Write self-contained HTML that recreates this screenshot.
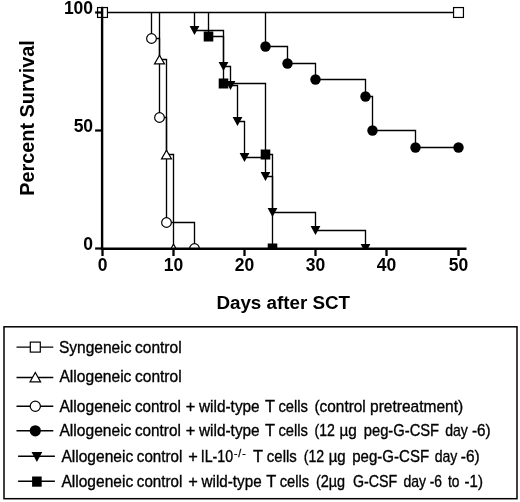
<!DOCTYPE html>
<html><head><meta charset="utf-8"><title>Survival</title>
<style>
html,body{margin:0;padding:0;background:#fff;}
svg{display:block}
text{font-family:"Liberation Sans",sans-serif;fill:#000}
.tk{font-weight:bold;font-size:17.5px}
.lb{font-weight:bold;font-size:18.8px}
.lb2{font-weight:bold;font-size:19.85px}
.lg{font-size:16.4px;stroke:#000;stroke-width:0.35px}
.sup{font-size:10.5px;stroke:#000;stroke-width:0.3px}
</style></head><body>
<svg width="520" height="502" viewBox="0 0 520 502">
<defs><clipPath id="cp"><rect x="0" y="0" width="520" height="248.8"/></clipPath></defs>
<rect width="520" height="502" fill="#fff"/>
<g clip-path="url(#cp)">
<path d="M102.5,12.5 L458.5,12.5" fill="none" stroke="#000" stroke-width="1.35"/>
<path d="M159.5,12.5 L159.5,59.5 L166.5,59.5 L166.5,154.5 L173.5,154.5 L173.5,248.5" fill="none" stroke="#000" stroke-width="1.35"/>
<path d="M151.5,12.5 L151.5,38.5 L159.5,38.5 L159.5,117.5 L166.5,117.5 L166.5,222.5 L194.5,222.5 L194.5,248.5" fill="none" stroke="#000" stroke-width="1.35"/>
<path d="M265.5,12.5 L265.5,46.5 L287.5,46.5 L287.5,63.5 L315.5,63.5 L315.5,79.5 L365.5,79.5 L365.5,96.5 L372.5,96.5 L372.5,130.5 L415.5,130.5 L415.5,147.5 L458.5,147.5" fill="none" stroke="#000" stroke-width="1.35"/>
<path d="M194.5,12.5 L194.5,30.5 L223.5,30.5 L223.5,66.5 L230.5,66.5 L230.5,85.5 L237.5,85.5 L237.5,121.5 L244.5,121.5 L244.5,157.5 L265.5,157.5 L265.5,176.5 L272.5,176.5 L272.5,212.5 L315.5,212.5 L315.5,230.5 L365.5,230.5 L365.5,248.5" fill="none" stroke="#000" stroke-width="1.35"/>
<path d="M208.5,12.5 L208.5,36.5 L223.5,36.5 L223.5,83.5 L265.5,83.5 L265.5,154.5 L272.5,154.5 L272.5,248.5" fill="none" stroke="#000" stroke-width="1.35"/>
<rect x="97.55" y="7.55" width="9.9" height="9.9" fill="#fff" stroke="#000" stroke-width="1.2"/>
<rect x="453.55" y="7.55" width="9.9" height="9.9" fill="#fff" stroke="#000" stroke-width="1.2"/>
<path d="M154.5,63.9 L164.5,63.9 L159.5,55.1 Z" fill="#fff" stroke="#000" stroke-width="1.2"/>
<path d="M161.5,158.9 L171.5,158.9 L166.5,150.1 Z" fill="#fff" stroke="#000" stroke-width="1.2"/>
<path d="M168.5,252.9 L178.5,252.9 L173.5,244.1 Z" fill="#fff" stroke="#000" stroke-width="1.2"/>
<circle cx="151.5" cy="38.5" r="4.85" fill="#fff" stroke="#000" stroke-width="1.2"/>
<circle cx="159.5" cy="117.5" r="4.85" fill="#fff" stroke="#000" stroke-width="1.2"/>
<circle cx="166.5" cy="222.5" r="4.85" fill="#fff" stroke="#000" stroke-width="1.2"/>
<circle cx="194.5" cy="248.5" r="4.85" fill="#fff" stroke="#000" stroke-width="1.2"/>
<circle cx="265.5" cy="46.5" r="5.2" fill="#000"/>
<circle cx="287.5" cy="63.5" r="5.2" fill="#000"/>
<circle cx="315.5" cy="79.5" r="5.2" fill="#000"/>
<circle cx="365.5" cy="96.5" r="5.2" fill="#000"/>
<circle cx="372.5" cy="130.5" r="5.2" fill="#000"/>
<circle cx="415.5" cy="147.5" r="5.2" fill="#000"/>
<circle cx="458.5" cy="147.5" r="5.2" fill="#000"/>
<path d="M189.6,25.9 L199.4,25.9 L194.5,35.1 Z" fill="#000"/>
<path d="M218.6,61.9 L228.4,61.9 L223.5,71.1 Z" fill="#000"/>
<path d="M225.6,80.9 L235.4,80.9 L230.5,90.1 Z" fill="#000"/>
<path d="M232.6,116.9 L242.4,116.9 L237.5,126.1 Z" fill="#000"/>
<path d="M239.6,152.9 L249.4,152.9 L244.5,162.1 Z" fill="#000"/>
<path d="M260.6,171.9 L270.4,171.9 L265.5,181.1 Z" fill="#000"/>
<path d="M267.6,207.9 L277.4,207.9 L272.5,217.1 Z" fill="#000"/>
<path d="M310.6,225.9 L320.4,225.9 L315.5,235.1 Z" fill="#000"/>
<path d="M360.6,243.9 L370.4,243.9 L365.5,253.1 Z" fill="#000"/>
<rect x="203.7" y="31.5" width="9.6" height="10" fill="#000"/>
<rect x="218.7" y="78.5" width="9.6" height="10" fill="#000"/>
<rect x="260.7" y="149.5" width="9.6" height="10" fill="#000"/>
<rect x="267.7" y="243.5" width="9.6" height="10" fill="#000"/>
</g>
<line x1="102.1" y1="6.8" x2="102.1" y2="250.0" stroke="#000" stroke-width="2.4"/>
<line x1="100.89999999999999" y1="248.8" x2="466.5" y2="248.8" stroke="#000" stroke-width="2.4"/>
<line x1="102.5" y1="248.8" x2="102.5" y2="256.0" stroke="#000" stroke-width="2.3"/>
<text x="102.5" y="270.8" text-anchor="middle" class="tk">0</text>
<line x1="173.5" y1="248.8" x2="173.5" y2="256.0" stroke="#000" stroke-width="2.3"/>
<text x="173.5" y="270.8" text-anchor="middle" class="tk">10</text>
<line x1="244.5" y1="248.8" x2="244.5" y2="256.0" stroke="#000" stroke-width="2.3"/>
<text x="244.5" y="270.8" text-anchor="middle" class="tk">20</text>
<line x1="315.5" y1="248.8" x2="315.5" y2="256.0" stroke="#000" stroke-width="2.3"/>
<text x="315.5" y="270.8" text-anchor="middle" class="tk">30</text>
<line x1="386.5" y1="248.8" x2="386.5" y2="256.0" stroke="#000" stroke-width="2.3"/>
<text x="386.5" y="270.8" text-anchor="middle" class="tk">40</text>
<line x1="458.5" y1="248.8" x2="458.5" y2="256.0" stroke="#000" stroke-width="2.3"/>
<text x="458.5" y="270.8" text-anchor="middle" class="tk">50</text>
<line x1="95.1" y1="248.5" x2="102.1" y2="248.5" stroke="#000" stroke-width="2.2"/>
<text x="93.1" y="250.3" text-anchor="end" class="tk">0</text>
<line x1="95.1" y1="130.5" x2="102.1" y2="130.5" stroke="#000" stroke-width="2.2"/>
<text x="93.1" y="132.3" text-anchor="end" class="tk">50</text>
<line x1="95.1" y1="12.5" x2="102.1" y2="12.5" stroke="#000" stroke-width="2.2"/>
<text x="93.1" y="14.3" text-anchor="end" class="tk">100</text>
<text x="283.2" y="309.4" text-anchor="middle" class="lb">Days after SCT</text>
<text transform="translate(34.2,118) rotate(-90)" text-anchor="middle" class="lb2">Percent Survival</text>
<rect x="4" y="326.8" width="513" height="171.9" fill="#fff" stroke="#000" stroke-width="1.5"/>
<line x1="16.5" y1="347.1" x2="53.3" y2="347.1" stroke="#000" stroke-width="1.4"/>
<rect x="30.299999999999997" y="342.1" width="10" height="10" fill="#fff" stroke="#000" stroke-width="1.2"/>
<text y="353" class="lg"><tspan x="58.95" textLength="72.46" lengthAdjust="spacingAndGlyphs">Syngeneic</tspan> <tspan x="134.99" textLength="46.6" lengthAdjust="spacingAndGlyphs">control</tspan></text>
<line x1="16.5" y1="377.5" x2="53.3" y2="377.5" stroke="#000" stroke-width="1.4"/>
<path d="M29.999999999999996,381.9 L40.599999999999994,381.9 L35.3,372.5 Z" fill="#fff" stroke="#000" stroke-width="1.2"/>
<text y="382.3" class="lg"><tspan x="59.47" textLength="71.94" lengthAdjust="spacingAndGlyphs">Allogeneic</tspan> <tspan x="134.99" textLength="46.6" lengthAdjust="spacingAndGlyphs">control</tspan></text>
<line x1="16.5" y1="406.2" x2="53.3" y2="406.2" stroke="#000" stroke-width="1.4"/>
<circle cx="35.3" cy="406.2" r="5.1" fill="#fff" stroke="#000" stroke-width="1.2"/>
<text y="411.7" class="lg"><tspan x="59.47" textLength="71.94" lengthAdjust="spacingAndGlyphs">Allogeneic</tspan> <tspan x="135.0" textLength="45.77" lengthAdjust="spacingAndGlyphs">control</tspan> <tspan x="185.7">+</tspan> <tspan x="199.02" textLength="60.66" lengthAdjust="spacingAndGlyphs">wild-type</tspan> <tspan x="265.08">T</tspan> <tspan x="278.38" textLength="29.41" lengthAdjust="spacingAndGlyphs">cells</tspan> <tspan x="314.5" textLength="51.28" lengthAdjust="spacingAndGlyphs">(control</tspan> <tspan x="370.0" textLength="93.21" lengthAdjust="spacingAndGlyphs">pretreatment)</tspan></text>
<line x1="16.5" y1="430.8" x2="53.3" y2="430.8" stroke="#000" stroke-width="1.4"/>
<circle cx="35.3" cy="430.8" r="5.6" fill="#000"/>
<text y="436.2" class="lg"><tspan x="59.47" textLength="71.94" lengthAdjust="spacingAndGlyphs">Allogeneic</tspan> <tspan x="135.0" textLength="45.77" lengthAdjust="spacingAndGlyphs">control</tspan> <tspan x="185.7">+</tspan> <tspan x="199.02" textLength="60.66" lengthAdjust="spacingAndGlyphs">wild-type</tspan> <tspan x="265.08">T</tspan> <tspan x="278.38" textLength="29.41" lengthAdjust="spacingAndGlyphs">cells</tspan> <tspan x="314.58" textLength="20.38" lengthAdjust="spacingAndGlyphs">(12</tspan> <tspan x="339.45" textLength="17.39" lengthAdjust="spacingAndGlyphs">µg</tspan> <tspan x="363.8" textLength="75.29" lengthAdjust="spacingAndGlyphs">peg-G-CSF</tspan> <tspan x="445.16" textLength="22.62" lengthAdjust="spacingAndGlyphs">day</tspan> <tspan x="471.97" textLength="18.73" lengthAdjust="spacingAndGlyphs">-6)</tspan></text>
<line x1="18.1" y1="456.2" x2="54.9" y2="456.2" stroke="#000" stroke-width="1.4"/>
<path d="M31.5,452.0 L42.3,452.0 L36.9,462.0 Z" fill="#000"/>
<text y="462.4" class="lg"><tspan x="61.47" textLength="71.69" lengthAdjust="spacingAndGlyphs">Allogeneic</tspan> <tspan x="136.86" textLength="45.4" lengthAdjust="spacingAndGlyphs">control</tspan> <tspan x="188.2">+</tspan> <tspan x="200.69" textLength="32.37" lengthAdjust="spacingAndGlyphs">IL-10</tspan> <tspan x="252.88">T</tspan> <tspan x="266.86" textLength="29.93" lengthAdjust="spacingAndGlyphs">cells</tspan> <tspan x="303.77" textLength="20.44" lengthAdjust="spacingAndGlyphs">(12</tspan> <tspan x="328.72" textLength="16.99" lengthAdjust="spacingAndGlyphs">µg</tspan> <tspan x="352.28" textLength="76.82" lengthAdjust="spacingAndGlyphs">peg-G-CSF</tspan> <tspan x="434.66" textLength="22.72" lengthAdjust="spacingAndGlyphs">day</tspan> <tspan x="460.81" textLength="18.9" lengthAdjust="spacingAndGlyphs">-6)</tspan></text>
<line x1="18.1" y1="481.3" x2="54.9" y2="481.3" stroke="#000" stroke-width="1.4"/>
<rect x="32.1" y="476.5" width="9.6" height="10.2" fill="#000"/>
<text y="487.4" class="lg"><tspan x="61.47" textLength="71.69" lengthAdjust="spacingAndGlyphs">Allogeneic</tspan> <tspan x="136.86" textLength="45.4" lengthAdjust="spacingAndGlyphs">control</tspan> <tspan x="188.2">+</tspan> <tspan x="201.52" textLength="60.16" lengthAdjust="spacingAndGlyphs">wild-type</tspan> <tspan x="266.13">T</tspan> <tspan x="279.63" textLength="29.41" lengthAdjust="spacingAndGlyphs">cells</tspan> <tspan x="315.95" textLength="29.23" lengthAdjust="spacingAndGlyphs">(2µg</tspan> <tspan x="353.03" textLength="44.29" lengthAdjust="spacingAndGlyphs">G-CSF</tspan> <tspan x="403.41" textLength="22.62" lengthAdjust="spacingAndGlyphs">day</tspan> <tspan x="429.64" textLength="12.25" lengthAdjust="spacingAndGlyphs">-6</tspan> <tspan x="448.04" textLength="11.49" lengthAdjust="spacingAndGlyphs">to</tspan> <tspan x="464.58" textLength="18.4" lengthAdjust="spacingAndGlyphs">-1)</tspan></text>
<text x="233.9" y="456.6" class="sup" textLength="11.8" lengthAdjust="spacing">-/-</text>
</svg>
</body></html>
